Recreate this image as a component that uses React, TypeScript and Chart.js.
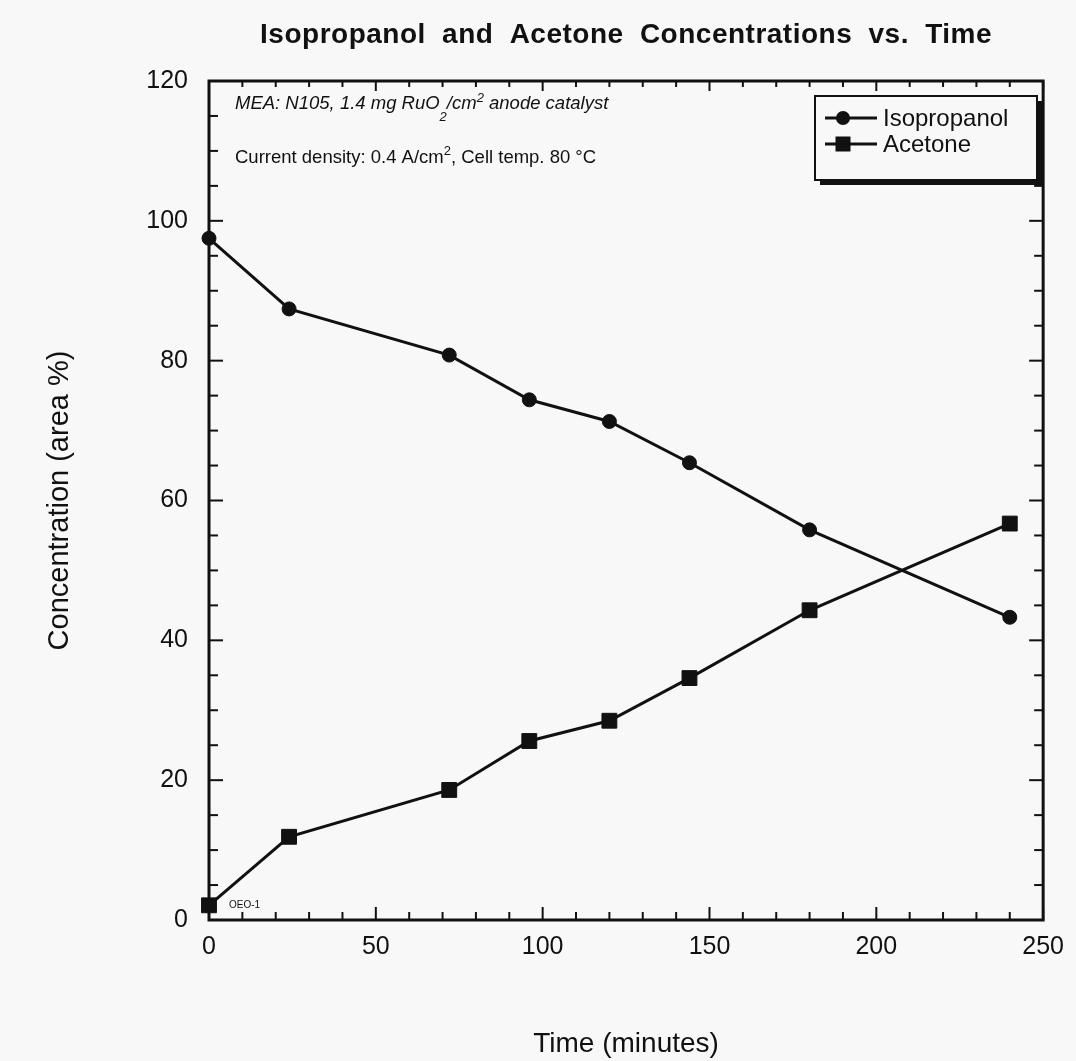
import React, { useEffect, useRef } from "react";
import { Chart, registerables } from "chart.js";

Chart.register(...registerables);

// ---- data ----
const timeMinutes = [0, 24, 72, 96, 120, 144, 180, 240];
const isopropanol = [97.5, 87.4, 80.8, 74.4, 71.3, 65.4, 55.8, 43.3];
const acetone = [2.1, 11.9, 18.6, 25.6, 28.5, 34.6, 44.3, 56.7];
const seriesLabels = ["Isopropanol", "Acetone"];
const seriesMarkers = ["circle", "rect"];

const xRange = [0, 250];
const yRange = [0, 120];
const xMajorStep = 50;
const xMinorStep = 10;
const yMajorStep = 20;
const yMinorStep = 5;

const chartTitle = "Isopropanol and Acetone Concentrations vs. Time";
const xAxisTitle = "Time (minutes)";
const yAxisTitle = "Concentration (area %)";
const noteLine1 = ["MEA: N105, 1.4 mg RuO", "2", "/cm", "2", " anode catalyst"];
const noteLine2 = ["Current density: 0.4 A/cm", "2", ", Cell temp. 80 °C"];
const sampleId = "OEO-1";

const INK = "#111111";
const FONT = "'Liberation Sans', Arial, Helvetica, sans-serif";

const decorPlugin = {
  id: "decor",
  beforeDraw(chart: any) {
    const ctx = chart.ctx;
    ctx.save();
    ctx.fillStyle = "#f8f8f8";
    ctx.fillRect(0, 0, chart.width, chart.height);
    ctx.restore();
  },
  beforeDatasetsDraw(chart: any) {
    const { ctx, chartArea: a, scales } = chart;
    const x = scales.x;
    const y = scales.y;
    ctx.save();
    ctx.strokeStyle = INK;
    ctx.lineWidth = 2;
    const seg = (x1: number, y1: number, x2: number, y2: number) => {
      ctx.beginPath();
      ctx.moveTo(x1, y1);
      ctx.lineTo(x2, y2);
      ctx.stroke();
    };
    for (let v = xRange[0]; v <= xRange[1]; v += xMinorStep) {
      const px = x.getPixelForValue(v);
      const major = v % xMajorStep === 0;
      seg(px, a.bottom, px, a.bottom - (major ? 13 : 8));
      seg(px, a.top, px, a.top + (major ? 10 : 6));
    }
    for (let v = yRange[0]; v <= yRange[1]; v += yMinorStep) {
      const py = y.getPixelForValue(v);
      const major = v % yMajorStep === 0;
      const l = major ? 14 : 9;
      seg(a.left, py, a.left + l, py);
      seg(a.right, py, a.right - l, py);
    }
    ctx.lineWidth = 3;
    ctx.strokeRect(a.left, a.top, a.right - a.left, a.bottom - a.top);
    ctx.restore();
  },
  afterDraw(chart: any) {
    const { ctx, chartArea: a } = chart;
    ctx.save();
    ctx.fillStyle = INK;
    ctx.strokeStyle = INK;

    // main title
    ctx.font = `bold 28px ${FONT}`;
    ctx.textAlign = "center";
    ctx.textBaseline = "alphabetic";
    try {
      (ctx as any).letterSpacing = "0.5px";
      (ctx as any).wordSpacing = "8px";
    } catch (e) {}
    ctx.fillText(chartTitle, (a.left + a.right) / 2, 43);
    try {
      (ctx as any).letterSpacing = "0px";
      (ctx as any).wordSpacing = "0px";
    } catch (e) {}

    // axis titles
    ctx.font = `28px ${FONT}`;
    ctx.fillText(xAxisTitle, (a.left + a.right) / 2, 1052);
    ctx.save();
    ctx.translate(68, (a.top + a.bottom) / 2);
    ctx.rotate(-Math.PI / 2);
    ctx.font = `29px ${FONT}`;
    ctx.fillText(yAxisTitle, 0, 0);
    ctx.restore();

    // annotations
    ctx.textAlign = "left";
    const drawParts = (parts: string[], x0: number, base: number, style: string, shifts: number[]) => {
      let cx = x0;
      parts.forEach((p, i) => {
        const sh = shifts[i];
        ctx.font = sh === 0 ? `${style} 18.5px ${FONT}` : `${style} 13px ${FONT}`;
        ctx.fillText(p, cx, base + sh);
        cx += ctx.measureText(p).width;
      });
    };
    drawParts(noteLine1, a.left + 26, 109, "italic", [0, 12, 0, -7, 0]);
    drawParts(noteLine2, a.left + 26, 163, "normal", [0, -8, 0]);

    ctx.font = `10px ${FONT}`;
    ctx.fillText(sampleId, a.left + 20, 908);

    // legend box with drop shadow
    const bx = 815, by = 96, bw = 222, bh = 84;
    ctx.fillStyle = INK;
    ctx.fillRect(bx + 5, by + 5, bw, bh);
    ctx.fillStyle = "#f8f8f8";
    ctx.fillRect(bx, by, bw, bh);
    ctx.lineWidth = 2;
    ctx.strokeRect(bx, by, bw, bh);

    const rows = [118, 144];
    chart.data.datasets.forEach((ds: any, i: number) => {
      const yy = rows[i];
      ctx.strokeStyle = INK;
      ctx.lineWidth = 3;
      ctx.beginPath();
      ctx.moveTo(bx + 10, yy);
      ctx.lineTo(877, yy);
      ctx.stroke();
      ctx.fillStyle = INK;
      if (ds.pointStyle === "rect") {
        ctx.fillRect(843 - 7.5, yy - 7.5, 15, 15);
      } else {
        ctx.beginPath();
        ctx.arc(843, yy, 7, 0, Math.PI * 2);
        ctx.fill();
      }
      ctx.font = `24px ${FONT}`;
      ctx.textBaseline = "middle";
      ctx.fillText(ds.label, 883, yy + 1);
      ctx.textBaseline = "alphabetic";
    });

    ctx.restore();
  },
};

export default function App() {
  const ref = useRef<HTMLCanvasElement | null>(null);

  useEffect(() => {
    document.body.style.margin = "0";
    const canvas = ref.current;
    if (!canvas) return;
    const mk = (i: number, values: number[]) => ({
      label: seriesLabels[i],
      data: timeMinutes.map((t, k) => ({ x: t, y: values[k] })),
      borderColor: INK,
      backgroundColor: INK,
      borderWidth: 3,
      pointStyle: seriesMarkers[i],
      pointRadius: seriesMarkers[i] === "rect" ? 10.5 : 7,
      pointBorderWidth: 1,
      pointBackgroundColor: INK,
      pointBorderColor: INK,
      tension: 0,
      clip: false as any,
    });
    const tickFont = { family: FONT, size: 25 };
    const chart = new Chart(canvas, {
      type: "line",
      data: { datasets: [mk(0, isopropanol), mk(1, acetone)] as any },
      plugins: [decorPlugin as any],
      options: {
        animation: false,
        responsive: false,
        devicePixelRatio: 1,
        layout: { padding: { left: 109, right: 29, top: 81, bottom: 81 } },
        plugins: {
          legend: { display: false },
          title: { display: false },
          tooltip: { enabled: false },
        },
        scales: {
          x: {
            type: "linear",
            min: xRange[0],
            max: xRange[1],
            ticks: { stepSize: xMajorStep, font: tickFont, color: INK, padding: 12, maxRotation: 0 },
            grid: { display: false, drawTicks: false },
            border: { display: false },
            afterFit: (s: any) => {
              s.height = 60;
            },
          },
          y: {
            type: "linear",
            min: yRange[0],
            max: yRange[1],
            ticks: { stepSize: yMajorStep, font: tickFont, color: INK, padding: 21 },
            grid: { display: false, drawTicks: false },
            border: { display: false },
            afterFit: (s: any) => {
              s.width = 100;
            },
          },
        },
      } as any,
    });
    return () => chart.destroy();
  }, []);

  return <canvas ref={ref} width={1076} height={1061} style={{ display: "block" }} />;
}
